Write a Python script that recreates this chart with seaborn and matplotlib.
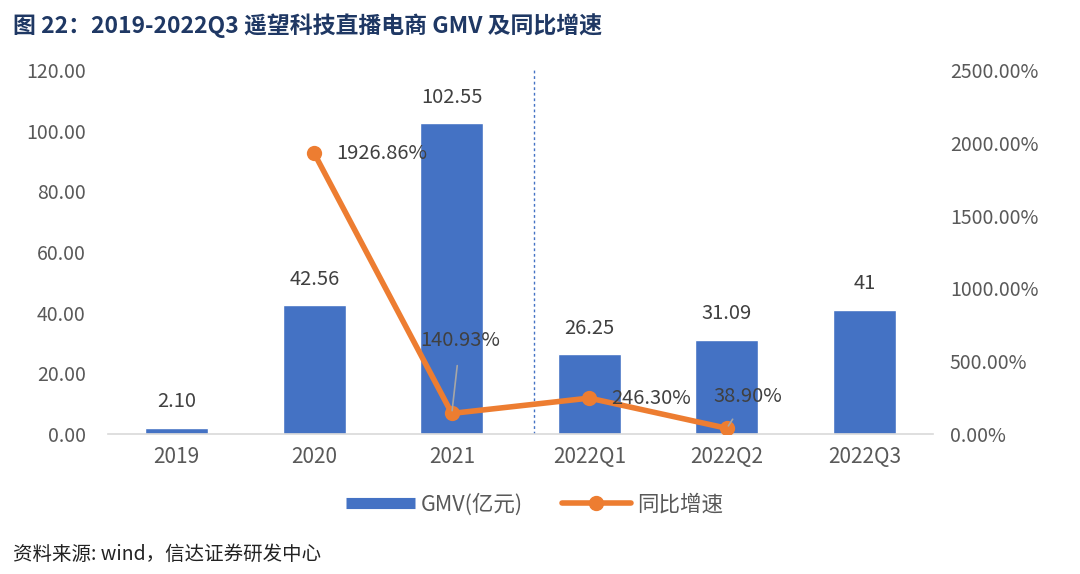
import numpy as np
import pandas as pd
import matplotlib
matplotlib.use("Agg")
import matplotlib.pyplot as plt
from matplotlib.lines import Line2D
import seaborn as sns

# 数据
categories = ["2019", "2020", "2021", "2022Q1", "2022Q2", "2022Q3"]
gmv = [2.10, 42.56, 102.55, 26.25, 31.09, 41]
gmv_labels = ["2.10", "42.56", "102.55", "26.25", "31.09", "41"]
growth = [np.nan, 1926.86, 140.93, 246.30, 38.90, np.nan]
growth_labels = ["", "1926.86%", "140.93%", "246.30%", "38.90%", ""]
left_ticks = [0, 20, 40, 60, 80, 100, 120]
right_ticks = [0, 500, 1000, 1500, 2000, 2500]

sns.set_theme(style="white")
plt.rcParams["font.family"] = ["Noto Sans CJK SC", "DejaVu Sans"]

BLUE = "#4472C4"
ORANGE = "#ED7D31"
TXT = "#404040"
TICK = "#595959"

df = pd.DataFrame({"cat": categories, "gmv": gmv, "growth": growth})
df["pos"] = np.arange(len(df))

fig = plt.figure(figsize=(10.8, 5.74), dpi=100)
ax = fig.add_axes([0.1, 0.244, 0.764, 0.634])

sns.barplot(data=df, x="cat", y="gmv", color=BLUE, width=0.46, saturation=1, ax=ax)
ax.set_ylim(0, 120)
ax.set_yticks(left_ticks)
ax.set_yticklabels([f"{v:.2f}" for v in left_ticks])
ax.set_xlim(-0.5, len(categories) - 0.5)
ax.set_xlabel("")
ax.set_ylabel("")
for s in ["top", "right", "left"]:
    ax.spines[s].set_visible(False)
ax.spines["bottom"].set_color("#D9D9D9")
ax.spines["bottom"].set_linewidth(1.2)
ax.tick_params(axis="y", length=0, labelsize=14, colors=TICK, pad=16)
ax.tick_params(axis="x", length=0, labelsize=15, colors=TICK, pad=9)

for i, (v, lab) in enumerate(zip(gmv, gmv_labels)):
    ax.text(i, v + 5, lab, ha="center", va="bottom", fontsize=14.5, color=TXT)

# 分隔虚线
ax.axvline(2.6, ymin=0, ymax=1.0, color=BLUE, linestyle=(0, (2, 2)), linewidth=1)

ax2 = ax.twinx()
line_df = df.dropna(subset=["growth"])
sns.lineplot(data=line_df, x="pos", y="growth", color=ORANGE, linewidth=4,
             marker="o", markersize=11, markeredgewidth=0, ax=ax2)
ax2.set_ylim(0, 2500)
ax2.set_yticks(right_ticks)
ax2.set_yticklabels([f"{v:.2f}%" for v in right_ticks])
ax2.set_xlim(-0.5, len(categories) - 0.5)
ax2.set_xlabel("")
ax2.set_ylabel("")
for s in ["top", "right", "left", "bottom"]:
    ax2.spines[s].set_visible(False)
ax2.tick_params(axis="y", length=0, labelsize=14, colors=TICK, pad=12)

# 增速标签
ax2.annotate(growth_labels[1], (1, growth[1]), xytext=(1.16, growth[1]),
             ha="left", va="center", fontsize=14.5, color=TXT)
ax2.annotate(growth_labels[3], (3, growth[3]), xytext=(3.45, growth[3]),
             ha="center", va="center", fontsize=14.5, color=TXT)
ax2.annotate(growth_labels[2], (2, growth[2]), xytext=(2.06, 640),
             ha="center", va="center", fontsize=14.5, color=TXT,
             arrowprops=dict(arrowstyle="-", color="#A6A6A6", lw=1.2,
                             shrinkA=8, shrinkB=2))
ax2.annotate(growth_labels[4], (4, growth[4]), xytext=(4.15, 260),
             ha="center", va="center", fontsize=14.5, color=TXT,
             arrowprops=dict(arrowstyle="-", color="#A6A6A6", lw=1.2,
                             shrinkA=8, shrinkB=2))
ax2.set_zorder(ax.get_zorder() + 1)
ax2.patch.set_visible(False)

if ax2.get_legend():
    ax2.get_legend().remove()

handles = [
    Line2D([0], [0], color=BLUE, linewidth=8, solid_capstyle="butt"),
    Line2D([0], [0], color=ORANGE, linewidth=4, marker="o", markersize=10),
]
fig.legend(handles, ["GMV(亿元)", "同比增速"], loc="center", bbox_to_anchor=(0.495, 0.121),
           ncol=2, frameon=False, fontsize=15.5, handlelength=3.2, columnspacing=1.8,
           handletextpad=0.3, labelcolor=TICK)

fig.text(0.012, 0.955, "图 22：2019-2022Q3 遥望科技直播电商 GMV 及同比增速",
         fontsize=16.5, fontweight="bold", color="#1F3864", va="center")
fig.text(0.012, 0.034, "资料来源: wind，信达证券研发中心", fontsize=14,
         style="italic", color="#222222", va="center")

fig.savefig("out.png", dpi=100)
